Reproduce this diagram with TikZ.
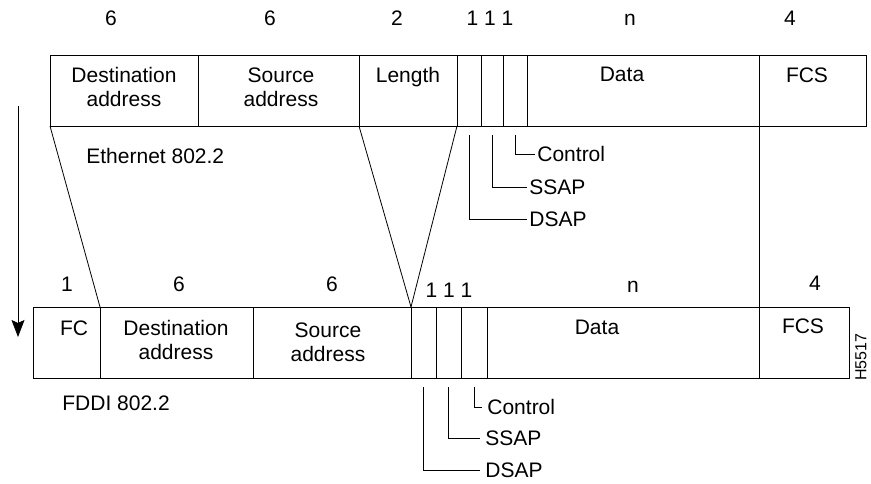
\documentclass[tikz,border=0pt]{standalone}
\usepackage{fontspec}
\setmainfont{Liberation Sans}
\usetikzlibrary{arrows.meta}

\begin{document}
\begin{tikzpicture}[x=1pt,y=-1pt,line width=0.8pt,
  every node/.style={font=\fontsize{21}{24}\selectfont},
  fld/.style={draw,minimum height=71pt,inner sep=0pt,outer sep=0pt,anchor=north west},
  txt/.style={anchor=north,align=center,inner sep=0pt},
  num/.style={anchor=base,inner sep=0pt},
  tag/.style={anchor=west,inner sep=2pt}]
\useasboundingbox (0,0) rectangle (871,484);
% Ethernet 802.2 frame
\node[fld,minimum width=148pt] (tdst) at (50,55) {};
\node[fld,minimum width=161pt] (tsrc) at (198,55) {};
\node[fld,minimum width=98pt] (tlen) at (359,55) {};
\node[fld,minimum width=24pt] (tdsap) at (457,55) {};
\node[fld,minimum width=22pt] (tssap) at (481,55) {};
\node[fld,minimum width=24pt] (tctl) at (503,55) {};
\node[fld,minimum width=232pt] (tdata) at (527,55) {};
\node[fld,minimum width=107pt] (tfcs) at (759,55) {};
\node[txt] (tdstL) at (124,67) {Destination\\address};
\node[txt] (tsrcL) at (281,67) {Source\\address};
\node[txt] (tlenL) at (408,67) {Length};
\node[txt] (tdataL) at (622,67) {Data};
\node[txt] (tfcsL) at (807,67) {FCS};
\node[num] (tn1) at (111,26) {6};
\node[num] (tn2) at (270,26) {6};
\node[num] (tn3) at (397,26) {2};
\node[num] (tn4) at (490,26) {1 1 1};
\node[num] (tn5) at (630,26) {n};
\node[num] (tn6) at (790,26) {4};
\node[anchor=west,inner sep=0pt] (ether) at (86,156) {Ethernet 802.2};
\node[tag] (tctlT) at (535,154) {Control};
\node[tag] (tssapT) at (527,187) {SSAP};
\node[tag] (tdsapT) at (527,219) {DSAP};
\draw ([yshift=-9pt]tctl.south) |- (tctlT.west);
\draw ([yshift=-9pt]tssap.south) |- (tssapT.west);
\draw ([yshift=-9pt]tdsap.south) |- (tdsapT.west);
% FDDI 802.2 frame
\node[fld,minimum width=67pt] (bfc) at (33,307) {};
\node[fld,minimum width=153pt] (bdst) at (100,307) {};
\node[fld,minimum width=158pt] (bsrc) at (253,307) {};
\node[fld,minimum width=25pt] (bdsap) at (411,307) {};
\node[fld,minimum width=25pt] (bssap) at (436,307) {};
\node[fld,minimum width=26pt] (bctl) at (461,307) {};
\node[fld,minimum width=272pt] (bdata) at (487,307) {};
\node[fld,minimum width=90pt] (bfcs) at (759,307) {};
\node[txt] (bfcL) at (74,320) {FC};
\node[txt] (bdstL) at (176,320) {Destination\\address};
\node[txt] (bsrcL) at (328,322) {Source\\address};
\node[txt] (bdataL) at (597,320) {Data};
\node[txt] (bfcsL) at (803,318) {FCS};
\node[num] (bn1) at (67,291) {1};
\node[num] (bn2) at (179,291) {6};
\node[num] (bn3) at (332,291) {6};
\node[num] (bn4) at (449,298) {1 1 1};
\node[num] (bn5) at (633,292) {n};
\node[num] (bn6) at (815,290) {4};
\node[anchor=west,inner sep=0pt] (fddi) at (62,403) {FDDI 802.2};
\node[tag,inner xsep=5pt] (bctlT) at (482,407) {Control};
\node[tag,inner xsep=5pt] (bssapT) at (480,438) {SSAP};
\node[tag,inner xsep=5pt] (bdsapT) at (480,470) {DSAP};
\draw ([yshift=-9pt]bctl.south) |- (bctlT.west);
\draw ([yshift=-9pt]bssap.south) |- (bssapT.west);
\draw ([yshift=-9pt]bdsap.south) |- (bdsapT.west);
% mapping lines
\draw (tdst.south west) -- (bdst.north west);
\draw (tsrc.south east) -- (bsrc.north east);
\draw (tdsap.south west) -- (bsrc.north east);
\draw (tfcs.south west) -- (bfcs.north west);
% direction arrow
\coordinate (arrTop) at (18,106);
\coordinate (arrBot) at (18,337);
\draw[-{Stealth[length=17pt,width=13pt,inset=3pt]}] (arrTop) -- (arrBot);
\node[rotate=90,inner sep=0pt,font=\fontsize{16}{18}\selectfont] (figno) at (861,357) {H5517};
\end{tikzpicture}
\end{document}
